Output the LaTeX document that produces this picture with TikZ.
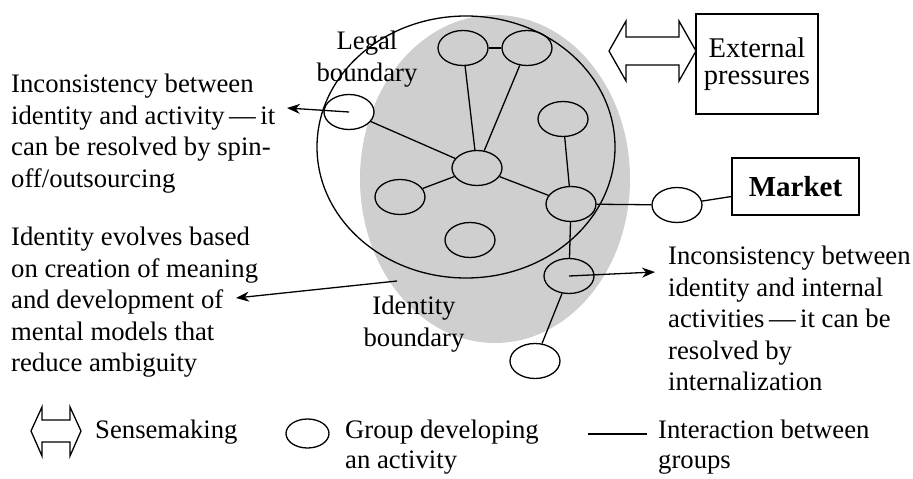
\documentclass[tikz,border=0pt]{standalone}
\usepackage{fontspec}
\setmainfont{Liberation Serif}
\usetikzlibrary{shapes.geometric,arrows.meta}
\definecolor{idgray}{RGB}{207,207,207}
\begin{document}
\begin{tikzpicture}[x=1pt,y=-1pt,
  grp/.style={ellipse,draw,line width=1.3pt,minimum width=50pt,minimum height=35pt,inner sep=0pt},
  grpw/.style={grp,fill=white},
  link/.style={line width=1.3pt},
  arr/.style={line width=1.3pt,-{Stealth[length=13pt,width=10pt]}},
  txt/.style={font=\fontsize{26.7}{31.5}\selectfont,inner sep=0pt,align=left,anchor=north west},
  lab/.style={font=\fontsize{26.7}{32}\selectfont,inner sep=0pt,align=center,anchor=north},
  box/.style={draw,line width=1.3pt,inner sep=0pt,align=center},
  sense/.style={line width=1.3pt,fill=white,line join=miter}]
\useasboundingbox (0,0) rectangle (913,479);
% identity boundary (gray)
\fill[idgray] (495,179) ellipse [x radius=135pt, y radius=164pt];
% legal boundary
\draw[link] (466,147) ellipse [x radius=149pt, y radius=131pt];
% groups
\node[grp]  (n1)  at (463,48)  {};
\node[grp]  (n2)  at (527,48)  {};
\node[grpw] (n3)  at (349,112) {};
\node[grp]  (n4)  at (477,168) {};
\node[grp]  (n5)  at (563,119) {};
\node[grp]  (n6)  at (400,197) {};
\node[grp]  (n7)  at (571,204) {};
\node[grp]  (n8)  at (470,240) {};
\node[grpw] (n9)  at (677,205) {};
\node[grp]  (n10) at (569,276) {};
\node[grpw] (n11) at (535,361) {};
% boxes
\node[box,minimum width=122pt,minimum height=100pt,font=\fontsize{28.5}{26.5}\selectfont] (ext) at (757,64) {External\\pressures};
\node[box,minimum width=127pt,minimum height=57pt,font=\fontsize{29}{30}\selectfont\bfseries] (mkt) at (795.5,186.5) {Market};
% interactions
\draw[link] (n1) -- (n2);
\draw[link] (n1) -- (n4);
\draw[link] (n2) -- (n4);
\draw[link] (n3) -- (n4);
\draw[link] (n4) -- (n6);
\draw[link] (n4) -- (n7);
\draw[link] (n5) -- (n7);
\draw[link] (n7) -- (n9);
\draw[link] (n9) -- (mkt);
\draw[link] (n7) -- (n10);
\draw[link] (n10) -- (n11);
% sensemaking with external pressures
\draw[sense] (609,51) -- (626,21) -- (626,37) -- (679,37) -- (679,21) -- (696,51)
  -- (679,81) -- (679,65) -- (626,65) -- (626,81) -- cycle;
% labels
\node[lab] (legal) at (367,31) {Legal\\boundary};
\node[lab] (idlab) at (414,295.5) {Identity\\boundary};
% texts
\node[txt] (t1) at (11,74) {Inconsistency between\\identity and activity\,—\,it\\can be resolved by spin-\\off/outsourcing};
\node[txt] (t2) at (11,227) {Identity evolves based\\on creation of meaning\\and development of\\mental models that\\reduce ambiguity};
\node[txt] (t3) at (668,246) {Inconsistency between\\identity and internal\\activities\,—\,it can be\\resolved by\\internalization};
% arrows
\coordinate (a1) at (287,108);
\coordinate (b2) at (397,281);
\coordinate (a2) at (236,298);
\coordinate (a3) at (655,272);
\draw[arr] (n3.center) -- (a1);
\draw[arr] (b2) -- (a2);
\draw[arr] (n10.center) -- (a3);
% legend
\draw[sense] (31,431) -- (42,407) -- (42,420) -- (70,420) -- (70,407) -- (81,431)
  -- (70,456) -- (70,442) -- (42,442) -- (42,456) -- cycle;
\node[font=\fontsize{26.7}{30}\selectfont,inner sep=0pt,anchor=base west] (lg1) at (95,438) {Sensemaking};
\node[ellipse,draw,line width=1.3pt,minimum width=43pt,minimum height=29pt,inner sep=0pt] (lge) at (307.5,433.5) {};
\node[txt,font=\fontsize{26.7}{30}\selectfont] (lg2) at (345,420) {Group developing\\an activity};
\coordinate (l1) at (588,434);
\coordinate (l2) at (647,434);
\draw[link] (l1) -- (l2);
\node[txt,font=\fontsize{26.7}{30}\selectfont] (lg3) at (658,420) {Interaction between\\groups};
\end{tikzpicture}
\end{document}
